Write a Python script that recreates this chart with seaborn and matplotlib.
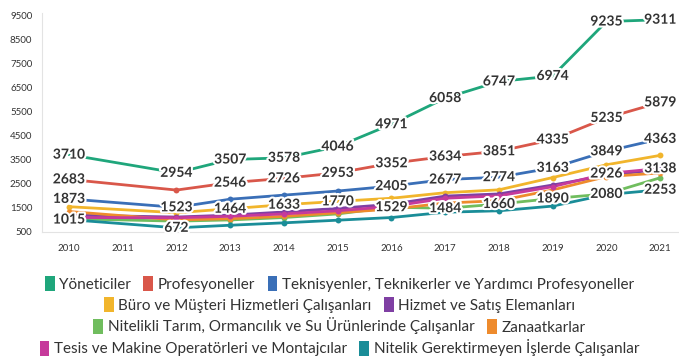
import pandas as pd
import numpy as np
import seaborn as sns
import matplotlib.pyplot as plt
import matplotlib.patheffects as pe
from matplotlib.patches import Patch

# Veriler (2011 yok)
years = [2010, 2012, 2013, 2014, 2015, 2016, 2017, 2018, 2019, 2020, 2021]

groups = [
    'Yöneticiler',
    'Profesyoneller',
    'Teknisyenler, Teknikerler ve Yardımcı Profesyoneller',
    'Büro ve Müşteri Hizmetleri Çalışanları',
    'Hizmet ve Satış Elemanları',
    'Nitelikli Tarım, Ormancılık ve Su Ürünlerinde Çalışanlar',
    'Zanaatkarlar',
    'Tesis ve Makine Operatörleri ve Montajcılar',
    'Nitelik Gerektirmeyen İşlerde Çalışanlar',
]

yoneticiler = [3710, 2954, 3507, 3578, 4046, 4971, 6058, 6747, 6974, 9235, 9311]
profesyoneller = [2683, 2240, 2546, 2726, 2953, 3352, 3634, 3851, 4335, 5235, 5879]
teknisyenler = [1873, 1523, 1860, 2030, 2200, 2405, 2677, 2774, 3163, 3849, 4363]
buro = [1550, 1300, 1464, 1633, 1770, 1900, 2130, 2250, 2760, 3290, 3680]
hizmet = [1200, 1120, 1200, 1330, 1480, 1650, 1990, 2080, 2450, 2850, 3100]
tarim = [1050, 950, 1000, 1100, 1250, 1529, 1484, 1660, 1890, 2080, 2750]
zanaat = [1350, 1000, 1050, 1150, 1300, 1450, 1700, 1800, 2245, 2800, 2950]
tesis = [1100, 1090, 1150, 1250, 1380, 1560, 1900, 2000, 2380, 2926, 3138]
nitelik_yok = [1015, 672, 780, 880, 990, 1100, 1320, 1380, 1575, 2050, 2253]

series = [yoneticiler, profesyoneller, teknisyenler, buro, hizmet,
          tarim, zanaat, tesis, nitelik_yok]

colors = ['#1fa67b', '#d9574a', '#3a6fb7', '#f1b52c', '#7f3fa3',
          '#70bd5e', '#ee8b2d', '#c63a9b', '#1a8d98']

# etiket gösterilen yıllar (diğerlerinde nokta var)
label_years = [
    years,
    [2010, 2013, 2014, 2015, 2016, 2017, 2018, 2019, 2020, 2021],
    [2010, 2012, 2016, 2017, 2018, 2019, 2020, 2021],
    [2013, 2014, 2015],
    [],
    [2016, 2017, 2018, 2019, 2020],
    [],
    [2020, 2021],
    [2010, 2012, 2021],
]

df = pd.DataFrame({
    'year': years * len(groups),
    'value': [v for s in series for v in s],
    'group': [g for g in groups for _ in years],
})

sns.set_style('white')
plt.rcParams['font.family'] = ['Lato', 'DejaVu Sans']

fig = plt.figure(figsize=(6.79, 3.6), dpi=100)
ax = fig.add_axes([0.0619, 0.3556, 0.95, 0.609])

palette = dict(zip(groups, colors))
sns.lineplot(data=df, x='year', y='value', hue='group', palette=palette,
             linewidth=2.0, legend=False, ax=ax)

# noktalar ve etiketler
for g, s, c, ly in zip(groups, series, colors, label_years):
    for yr, v in zip(years, s):
        if yr in ly:
            ax.text(yr, v, str(v), ha='center', va='center', fontsize=10,
                    fontweight='bold', color='#333333', zorder=5,
                    path_effects=[pe.withStroke(linewidth=3, foreground='white')])
        else:
            ax.scatter(yr, v, s=18, color=c, zorder=4, linewidths=0)

ax.set_xlim(2009.5, 2021.5)
ax.set_ylim(500, 9600)
ax.set_xticks(range(2010, 2022))
ax.set_yticks(range(500, 10000, 1000))
ax.set_yticks(range(1000, 10000, 1000), minor=True)
ax.tick_params(axis='both', labelsize=7, colors='#dddddd', labelcolor='#333333',
               length=4, width=0.8, which='both')
ax.tick_params(axis='y', pad=3)
ax.tick_params(axis='x', pad=5)
ax.set_xlabel('')
ax.set_ylabel('')
for side in ['top', 'right']:
    ax.spines[side].set_visible(False)
for side in ['left', 'bottom']:
    ax.spines[side].set_color('#e3e3e3')

# lejant, satır satır ortalı
rows = [[0, 1, 2], [3, 4], [5, 6], [7, 8]]
row_y = [1 - 284 / 360, 1 - 305 / 360, 1 - 326 / 360, 1 - 348 / 360]
for r, yy in zip(rows, row_y):
    handles = [Patch(facecolor=colors[i], edgecolor='none') for i in r]
    leg = fig.legend(handles, [groups[i] for i in r], loc='center',
                     bbox_to_anchor=(0.5, yy), ncol=len(r), frameon=False,
                     fontsize=11, handlelength=0.65, handleheight=1.15,
                     handletextpad=0.3, columnspacing=0.8, borderpad=0)
    for t in leg.get_texts():
        t.set_color('#333333')

fig.savefig('out.png', dpi=100)
